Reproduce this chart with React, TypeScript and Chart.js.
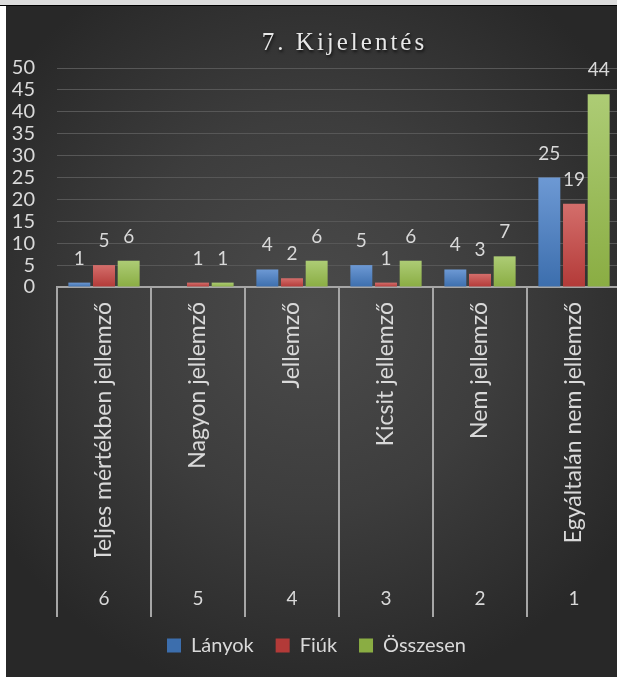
import React, { useEffect, useRef } from 'react';
import { Chart, registerables } from 'chart.js';

Chart.register(...registerables);

const titleText = '7. Kijelentés';
const categories = [
  'Teljes mértékben jellemző',
  'Nagyon jellemző',
  'Jellemző',
  'Kicsit jellemző',
  'Nem jellemző',
  'Egyáltalán nem jellemző',
];
const scaleLabels = ['6', '5', '4', '3', '2', '1'];
const seriesNames = ['Lányok', 'Fiúk', 'Összesen'];
const lanyok = [1, 0, 4, 5, 4, 25];
const fiuk = [5, 1, 2, 1, 3, 19];
const osszesen = [6, 1, 6, 6, 7, 44];
const yMin = 0;
const yMax = 50;
const yStep = 5;

const seriesTop = ['#6d99d4', '#d46e6b', '#adcc75'];
const seriesBase = ['#4f81bd', '#c0504d', '#9bbb59'];
const seriesBottom = ['#3c6ead', '#b33a38', '#8aad43'];

const textColor = '#d9d9d9';

function barFill(i: number) {
  return (c: any) => {
    if (c.type !== 'data' || !c.parsed) return seriesBase[i];
    const chart = c.chart;
    const y = chart.scales && chart.scales.y;
    if (!y || !chart.chartArea) return seriesBase[i];
    const top = y.getPixelForValue(c.parsed.y);
    const bottom = y.getPixelForValue(0);
    if (!isFinite(top) || !isFinite(bottom) || bottom - top < 1) return seriesBase[i];
    const g = chart.ctx.createLinearGradient(0, top, 0, bottom);
    g.addColorStop(0, seriesTop[i]);
    g.addColorStop(1, seriesBottom[i]);
    return g;
  };
}

const titlePlugin = {
  id: 'titleText',
  afterDraw(chart: any) {
    const { ctx, chartArea } = chart;
    const spacing = 3;
    ctx.save();
    ctx.font = '25px "Liberation Serif"';
    (ctx as any).letterSpacing = '0px';
    const w = ctx.measureText(titleText).width + spacing * (titleText.length - 1);
    (ctx as any).letterSpacing = spacing + 'px';
    ctx.fillStyle = '#e8e8e8';
    ctx.textAlign = 'left';
    ctx.textBaseline = 'alphabetic';
    ctx.shadowColor = 'rgba(0,0,0,0.75)';
    ctx.shadowBlur = 3;
    ctx.shadowOffsetX = 1;
    ctx.shadowOffsetY = 2;
    const cx = (chartArea.left + chartArea.right) / 2 + 4;
    ctx.fillText(titleText, cx - w / 2, chartArea.top - 18);
    ctx.restore();
  },
};

const dividerPlugin = {
  id: 'dividers',
  beforeDatasetsDraw(chart: any) {
    const { ctx, chartArea } = chart;
    const x = chart.scales.x;
    const x2 = chart.scales.x2;
    ctx.save();
    ctx.strokeStyle = '#a6a6a6';
    ctx.lineWidth = 2;
    ctx.beginPath();
    for (let i = 0; i <= categories.length; i++) {
      const px = x.getPixelForValue(i - 0.5);
      ctx.moveTo(px, chartArea.bottom);
      ctx.lineTo(px, x2.bottom + 3.5);
    }
    ctx.stroke();
    ctx.restore();
  },
};

const valueLabelPlugin = {
  id: 'valueLabels',
  afterDatasetsDraw(chart: any) {
    const { ctx } = chart;
    ctx.save();
    ctx.font = '19px Lato';
    ctx.fillStyle = textColor;
    ctx.textAlign = 'center';
    ctx.textBaseline = 'alphabetic';
    chart.data.datasets.forEach((ds: any, di: number) => {
      const meta = chart.getDatasetMeta(di);
      meta.data.forEach((el: any, j: number) => {
        const v = ds.data[j];
        if (!v) return;
        ctx.fillText(String(v), el.x, el.y - 18);
      });
    });
    ctx.restore();
  },
};

export default function App() {
  const ref = useRef<HTMLCanvasElement | null>(null);

  useEffect(() => {
    if (!ref.current) return;
    const series = [lanyok, fiuk, osszesen];
    const chart = new Chart(ref.current, {
      type: 'bar',
      data: {
        labels: categories,
        datasets: series.map((d, i) => ({
          label: seriesNames[i],
          data: d,
          backgroundColor: barFill(i),
          borderWidth: 0,
          categoryPercentage: 0.787,
          barPercentage: 0.89,
        })),
      },
      options: {
        responsive: false,
        animation: false,
        events: [],
        layout: { padding: { top: 62, left: 6, right: 0, bottom: 11.5 } },
        plugins: {
          title: { display: false },
          tooltip: { enabled: false },
          legend: {
            display: true,
            position: 'bottom',
            labels: {
              color: textColor,
              font: { family: 'Lato', size: 20 },
              boxWidth: 14,
              boxHeight: 14,
              padding: 22,
            },
          },
        },
        scales: {
          x: {
            type: 'category',
            position: 'bottom',
            offset: true,
            grid: { display: false, drawTicks: false },
            border: { display: true, color: '#a6a6a6', width: 2 },
            ticks: {
              autoSkip: false,
              maxRotation: 90,
              minRotation: 90,
              padding: 15,
              color: textColor,
              font: { family: 'Lato', size: 23 },
            },
            afterFit: (s: any) => {
              s.height = 270;
              s.paddingLeft = 0;
              s.paddingRight = 0;
            },
          },
          x2: {
            type: 'category',
            position: 'bottom',
            labels: scaleLabels,
            offset: true,
            grid: { display: false, drawTicks: false },
            border: { display: false },
            ticks: {
              autoSkip: false,
              maxRotation: 0,
              padding: 30.6,
              color: textColor,
              font: { family: 'Lato', size: 19 },
            },
            afterFit: (s: any) => {
              s.height = 56.5;
              s.paddingLeft = 0;
              s.paddingRight = 0;
            },
          },
          y: {
            min: yMin,
            max: yMax,
            ticks: {
              stepSize: yStep,
              autoSkip: false,
              padding: 22,
              color: textColor,
              font: { family: 'Lato', size: 20 },
            },
            grid: { color: '#575757', lineWidth: 1, drawTicks: false },
            border: { display: false },
            afterFit: (s: any) => {
              s.width = 45;
            },
          },
        },
      } as any,
      plugins: [titlePlugin, dividerPlugin, valueLabelPlugin],
    });
    return () => chart.destroy();
  }, []);

  return (
    <div
      style={{
        position: 'fixed',
        left: 0,
        top: 0,
        width: 617,
        height: 677,
        overflow: 'hidden',
        background: '#ffffff',
      }}
    >
      <div style={{ position: 'absolute', left: 0, top: 0, width: 617, height: 5, background: '#dcdcdc' }} />
      <div style={{ position: 'absolute', left: 0, top: 5, width: 617, height: 1, background: '#000000' }} />
      <div
        style={{
          position: 'absolute',
          left: 6,
          top: 6,
          width: 611,
          height: 671,
          overflow: 'hidden',
          background: 'radial-gradient(ellipse 62% 58% at 50% 46%, #4b4b4b 0%, #3d3d3d 50%, #282828 100%)',
        }}
      >
        <canvas ref={ref} width={615} height={671} style={{ display: 'block' }} />
      </div>
    </div>
  );
}
